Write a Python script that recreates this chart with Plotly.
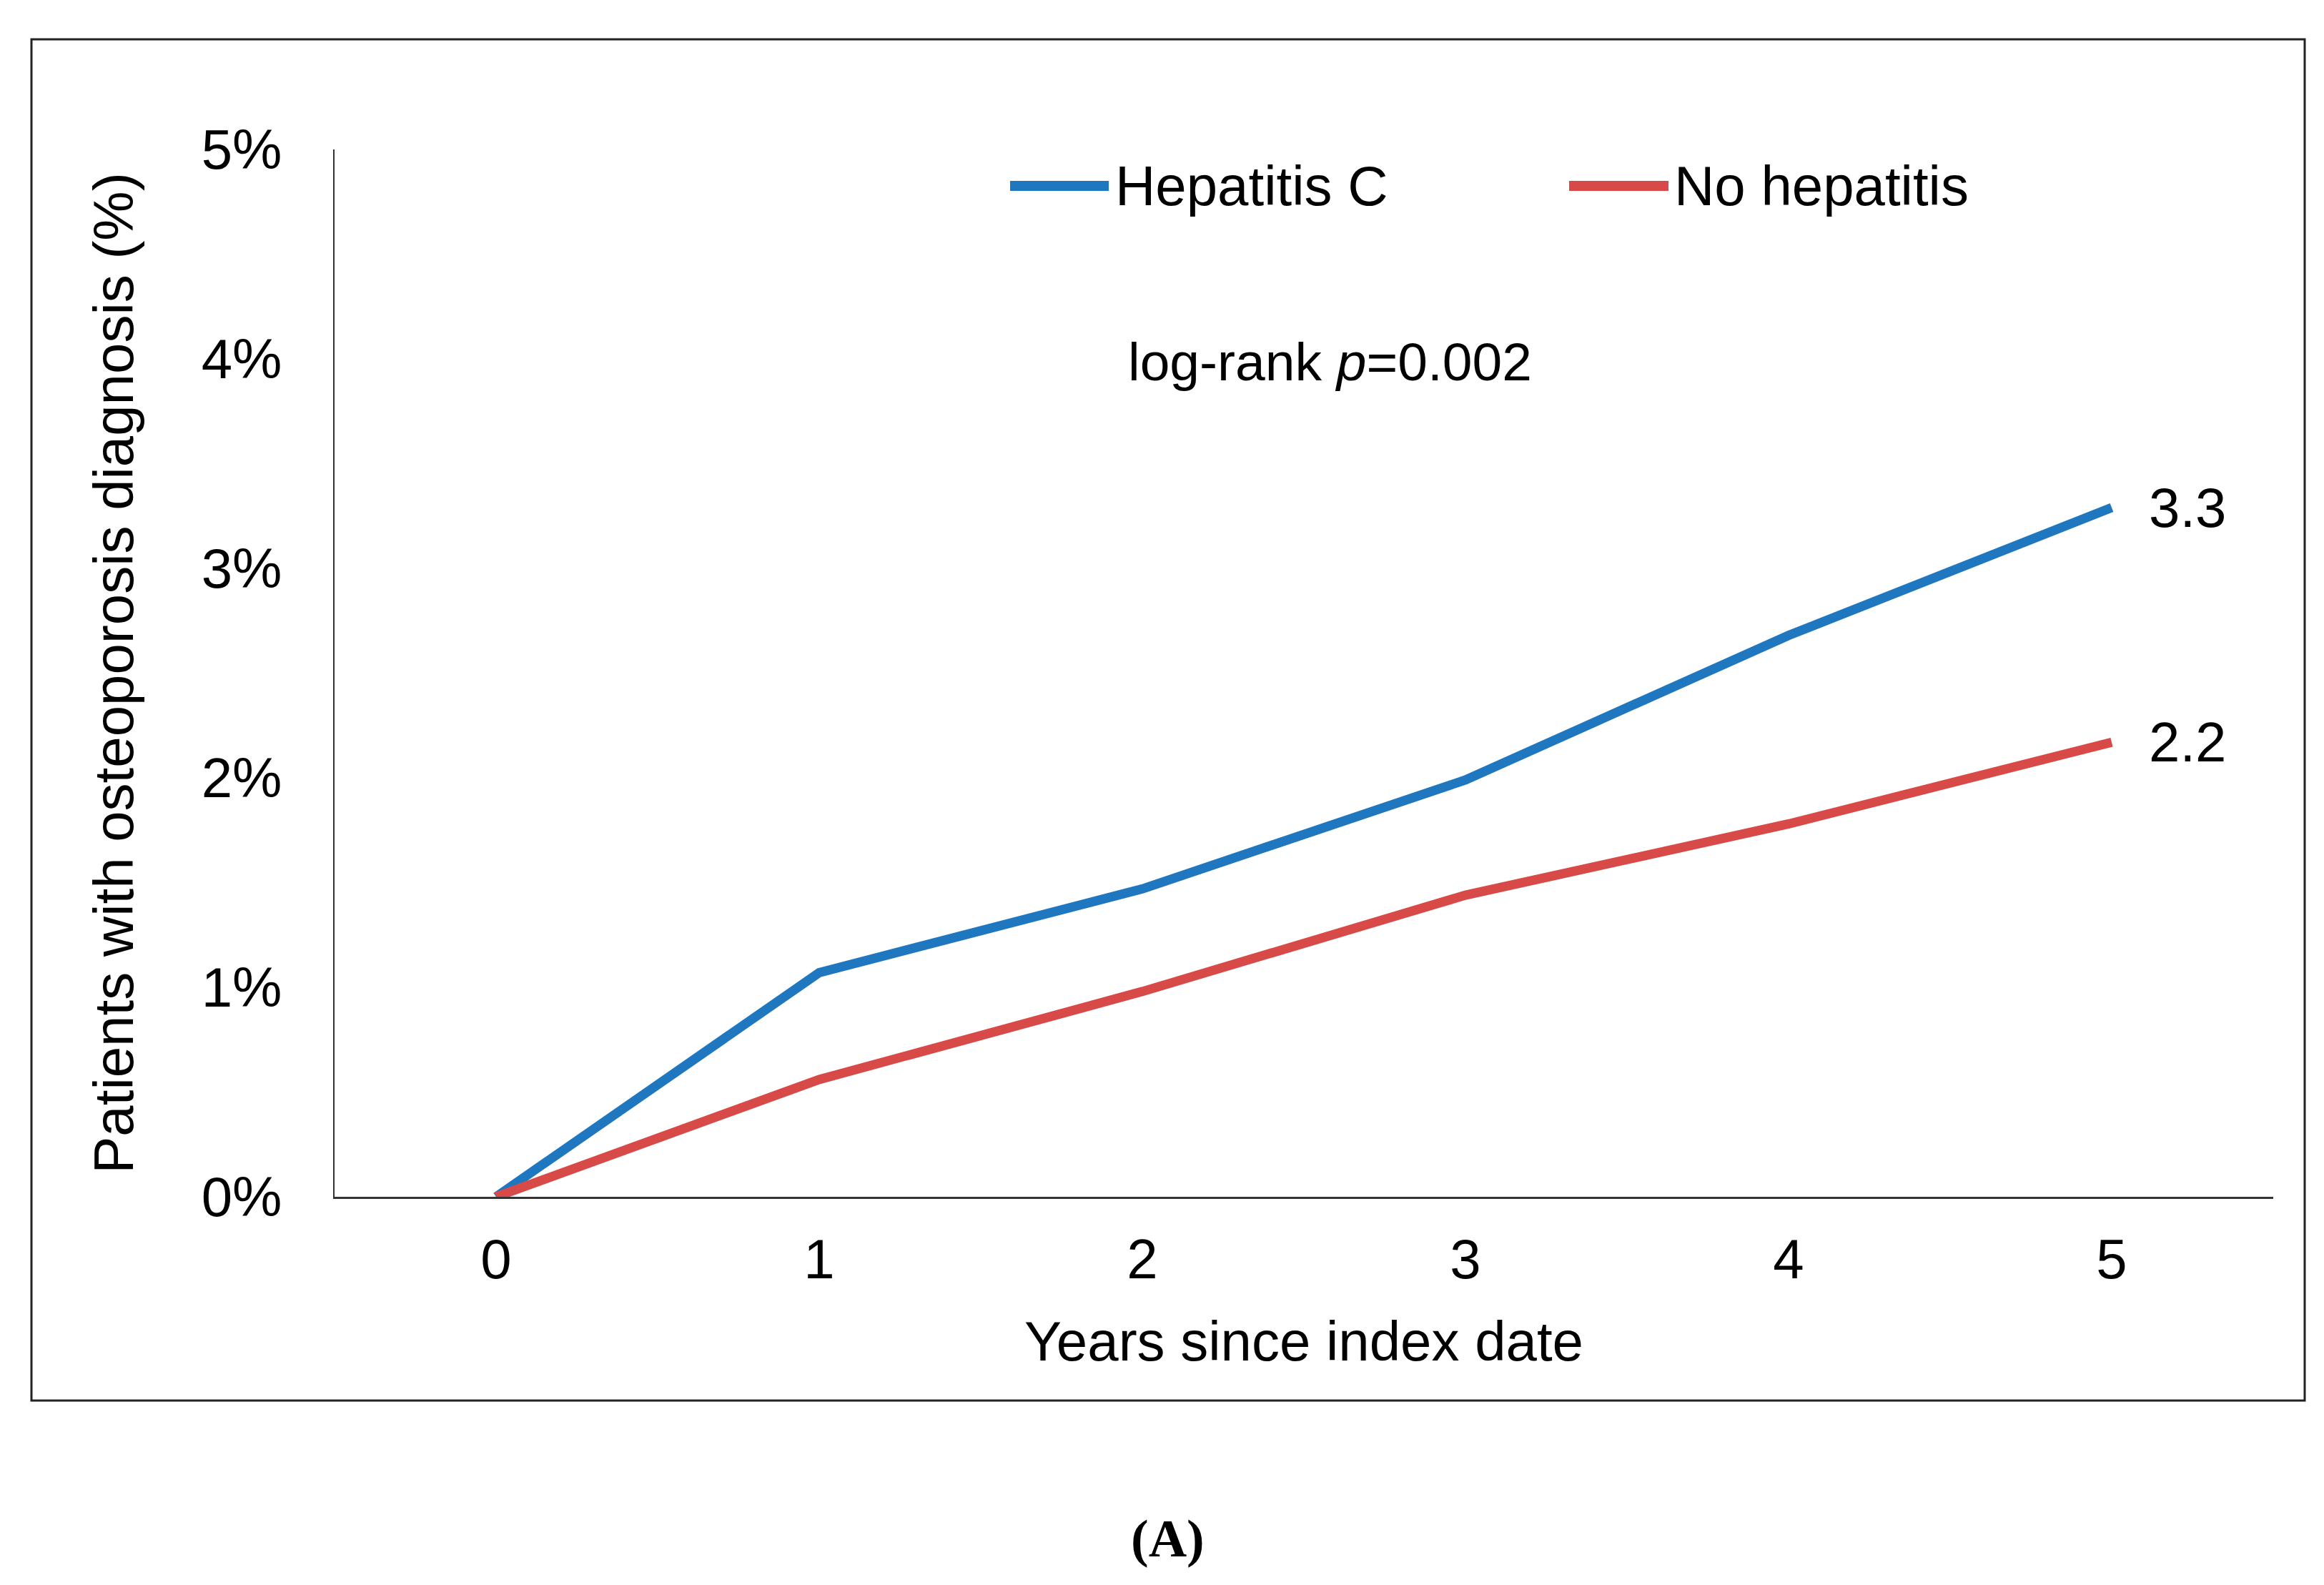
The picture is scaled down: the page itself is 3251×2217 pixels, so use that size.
import plotly.graph_objects as go

years = [0, 1, 2, 3, 4, 5]
hep_c = [0.0, 1.07, 1.47, 1.99, 2.68, 3.29]
no_hep = [0.0, 0.56, 0.98, 1.44, 1.78, 2.17]
end_labels = ["3.3", "2.2"]
y_ticks = [0, 1, 2, 3, 4, 5]
y_tick_text = ["0%", "1%", "2%", "3%", "4%", "5%"]
series_names = ["Hepatitis C", "No hepatitis"]
colors = ["#1F77C0", "#D84A47"]

W, H = 3251, 2217
L, R, T, B = 460, 3172, 201, 1666  # plot area pixels


def px(x):
    return (x - L) / (R - L)


def py(y):
    return (B - y) / (B - T)


FONT = "Liberation Sans, Arial, sans-serif"
FS = 78

fig = go.Figure()
for name, vals, col in zip(series_names, [hep_c, no_hep], colors):
    fig.add_trace(go.Scatter(x=years, y=vals, mode="lines", name=name,
                             line=dict(color=col, width=13), showlegend=False))

annotations = []
for vals, lab in zip([hep_c, no_hep], end_labels):
    annotations.append(dict(x=years[-1], y=vals[-1], xref="x", yref="y", text=lab,
                            showarrow=False, xanchor="left", yanchor="middle",
                            xshift=50, font=dict(family=FONT, size=FS, color="black")))

# manual legend
shapes = []
leg_y = py(252)
leg_items = [(1405, 1543, 1550), (2187, 2326, 2332)]
for (x0, x1, xt), name, col in zip(leg_items, series_names, colors):
    shapes.append(dict(type="line", xref="paper", yref="paper", x0=px(x0), x1=px(x1),
                       y0=leg_y, y1=leg_y, line=dict(color=col, width=14)))
    annotations.append(dict(x=px(xt), y=leg_y, xref="paper", yref="paper", text=name,
                            showarrow=False, xanchor="left", yanchor="middle",
                            font=dict(family=FONT, size=FS, color="black")))

annotations.append(dict(x=px(1852), y=py(498), xref="paper", yref="paper",
                        text="log-rank <i>p</i>=0.002", showarrow=False,
                        xanchor="center", yanchor="middle",
                        font=dict(family=FONT, size=75, color="black")))

annotations.append(dict(x=px(1625), y=py(2144), xref="paper", yref="paper",
                        text="<b>(A)</b>", showarrow=False,
                        xanchor="center", yanchor="middle",
                        font=dict(family="Liberation Serif, Times New Roman, serif", size=74, color="black")))

# outer frame
shapes.append(dict(type="rect", xref="paper", yref="paper", x0=px(36), x1=px(3216),
                   y0=py(1951), y1=py(47), line=dict(color="#222222", width=3)))

fig.update_layout(
    width=W, height=H,
    margin=dict(l=L, r=W - R, t=T, b=H - B, pad=0),
    paper_bgcolor="white", plot_bgcolor="white",
    font=dict(family=FONT, size=FS, color="black"),
    annotations=annotations, shapes=shapes,
    xaxis=dict(range=[-0.5, 5.5], tickvals=years, ticktext=[str(v) for v in years],
               showgrid=False, zeroline=False, showline=True, linecolor="#333333",
               linewidth=3, ticks="", ticklabelstandoff=17,
               tickfont=dict(family=FONT, size=FS),
               title=dict(text="Years since index date", standoff=45,
                          font=dict(family=FONT, size=FS))),
    yaxis=dict(range=[0, 5], tickvals=y_ticks, ticktext=y_tick_text,
               showgrid=False, zeroline=False, showline=True, linecolor="#333333",
               linewidth=2, ticks="", ticklabelstandoff=56,
               tickfont=dict(family=FONT, size=FS),
               title=dict(text="Patients with osteoporosis diagnosis (%)", standoff=69,
                          font=dict(family=FONT, size=FS))),
)

fig.write_html("out.html")
